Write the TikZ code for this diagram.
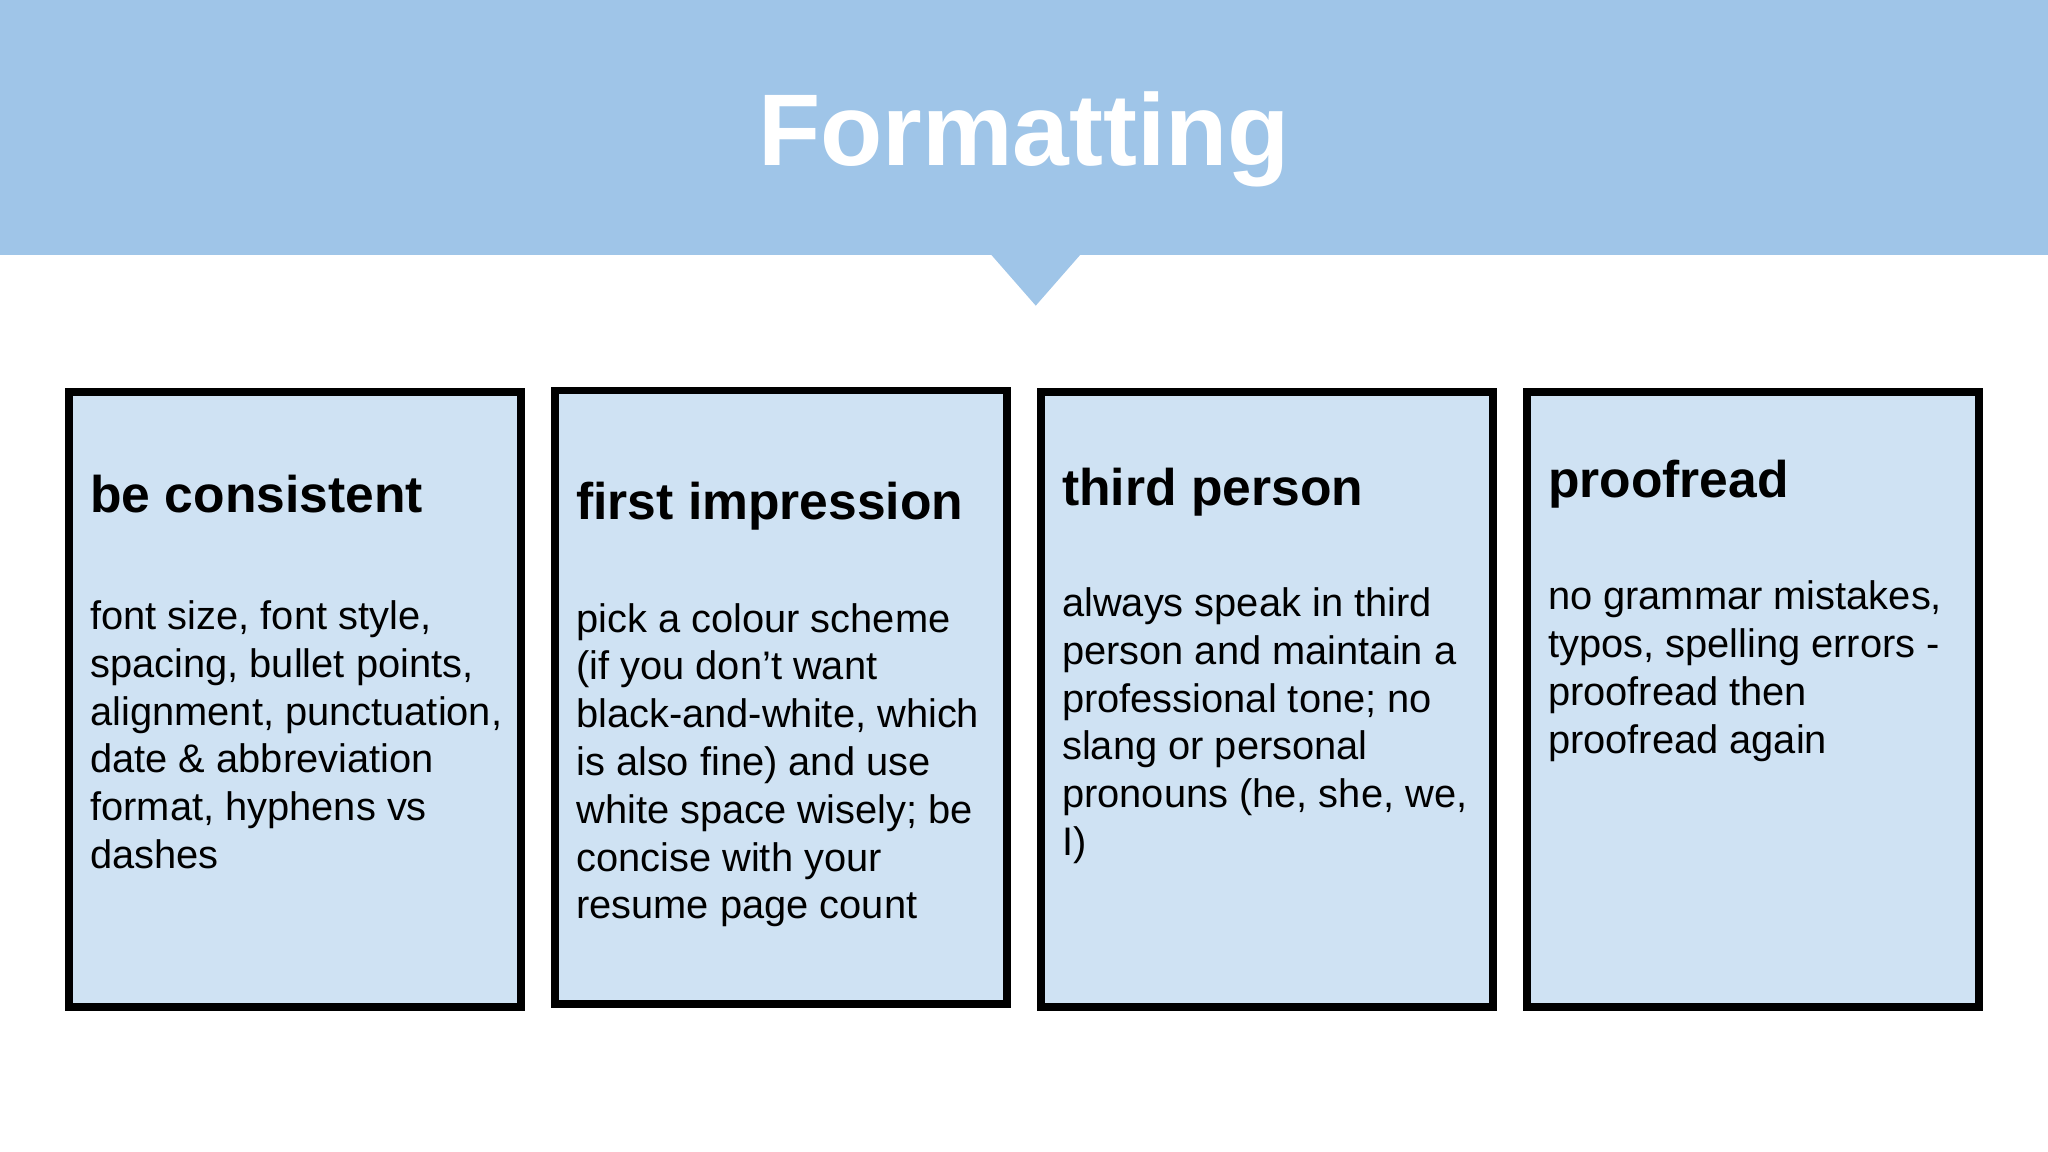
\documentclass[tikz,border=0pt]{standalone}
\usepackage{fontspec}
\setmainfont{Liberation Sans}
\definecolor{band}{HTML}{9FC5E8}
\definecolor{card}{HTML}{CFE2F3}
\begin{document}
\begin{tikzpicture}[x=1pt,y=-1pt,
  cardbox/.style={draw=black,line width=6pt,fill=card},
  head/.style={anchor=base west,font=\fontsize{39.5}{46}\selectfont\bfseries,inner sep=0},
  body/.style={anchor=base west,align=left,font=\fontsize{30.5}{36.6}\selectfont,inner sep=0}]
\useasboundingbox (0,0) rectangle (1568,882);
\fill[white] (0,0) rectangle (1568,882);
\fill[band] (0,0) rectangle (1568,195);
\fill[band] (758,194) -- (828,194) -- (793,234) -- cycle;
\node[text=white,font=\fontsize{78}{90}\selectfont\bfseries] (title) at (784,107) {Formatting};
\draw[cardbox] (53,300) rectangle (399,771);
\draw[cardbox] (425,299) rectangle (771,769);
\draw[cardbox] (797,300) rectangle (1143,771);
\draw[cardbox] (1169,300) rectangle (1515,771);
\node[head] (h1) at (69,392) {be consistent};
\node[head] (h2) at (441,398) {first impression};
\node[head] (h3) at (813,387) {third person};
\node[head] (h4) at (1185,381) {proofread};
\node[body] (b1) at (69,665) {font size, font style,\\spacing, bullet points,\\alignment, punctuation,\\date \& abbreviation\\format, hyphens vs\\dashes};
\node[body] (b2) at (441,703.6) {pick a colour scheme\\(if you don’t want\\black-and-white, which\\is also fine) and use\\white space wisely; be\\concise with your\\resume page count};
\node[body] (b3) at (813,655) {always speak in third\\person and maintain a\\professional tone; no\\slang or personal\\pronouns (he, she, we,\\I)};
\node[body] (b4) at (1185,576.8) {no grammar mistakes,\\typos, spelling errors -\\proofread then\\proofread again};
\end{tikzpicture}
\end{document}
